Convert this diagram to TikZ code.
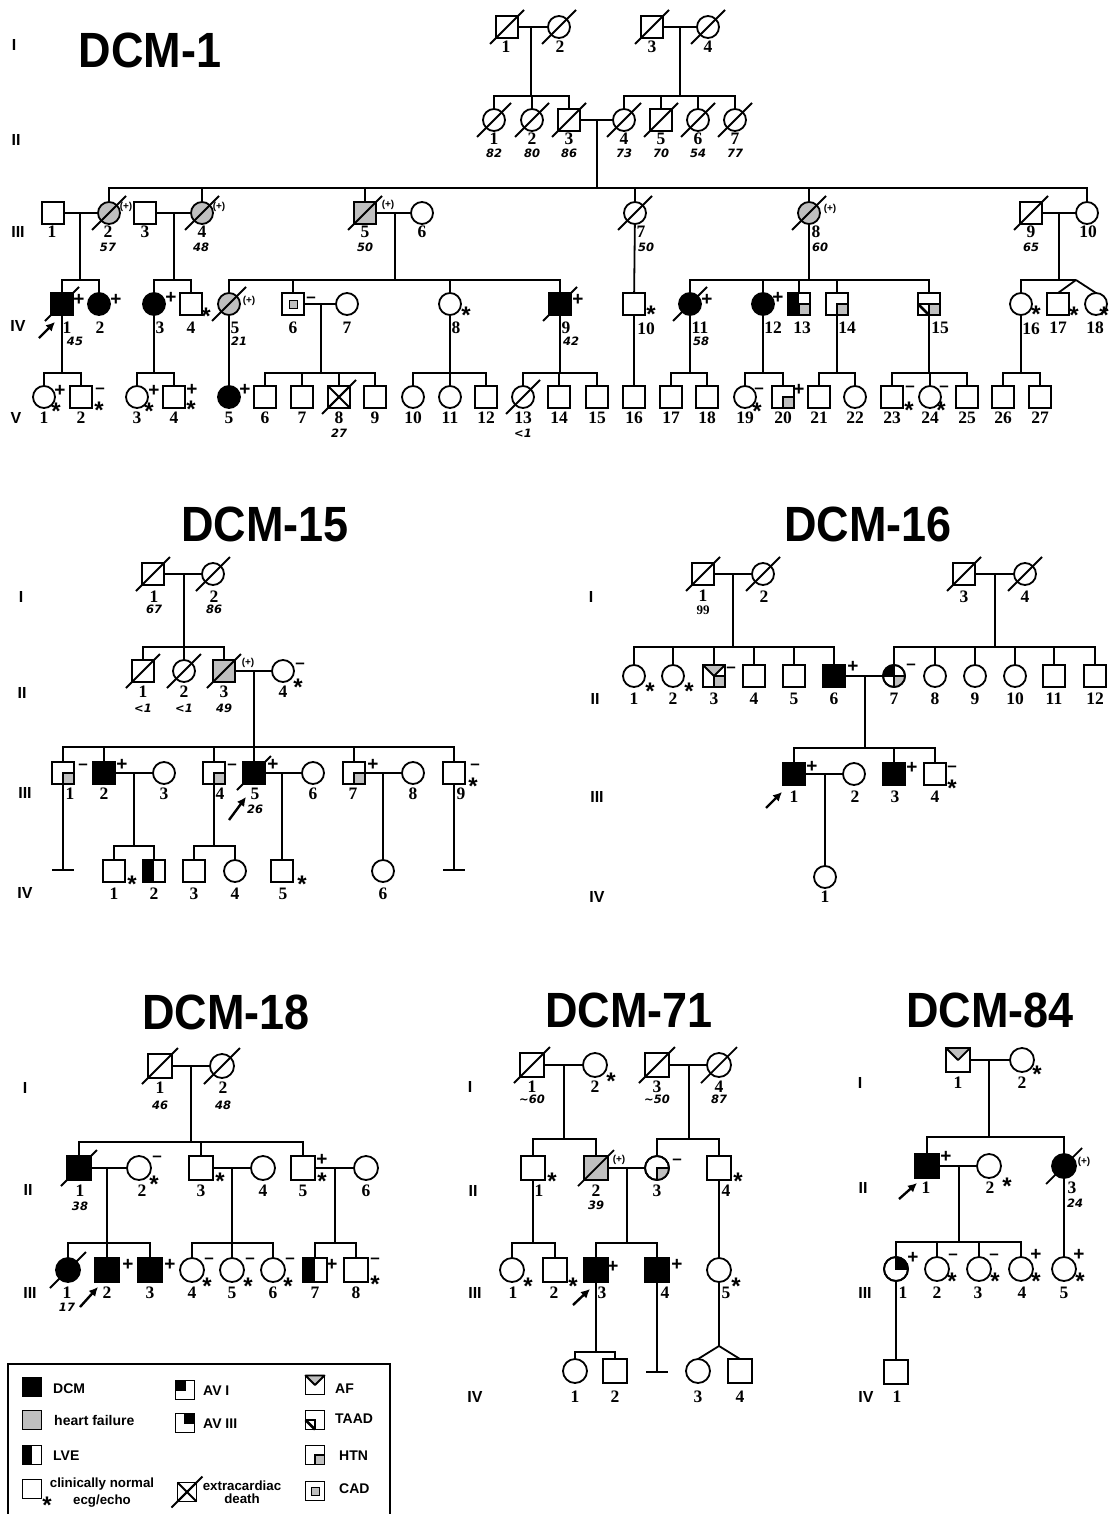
\documentclass[tikz,border=0pt]{standalone}
\usepackage{fontspec}
\setmainfont{Liberation Serif}
\newfontfamily\lsans{Liberation Sans}
\newfontfamily\dvs{DejaVu Sans}
\usetikzlibrary{arrows.meta}
\newcounter{tx}
\definecolor{hf}{gray}{0.75}
\def\hs{11}
\newcommand\Ma[3][]{\node[msym,#1] (#2) at (#3) {};}
\newcommand\Fe[3][]{\node[fsym,#1] (#2) at (#3) {};}
\newcommand\Tx[3][num]{\stepcounter{tx}\node[#1,name=t\the\value{tx}] at (#2) {#3};}
\newcommand\Sx{\raisebox{-0.43em}[0.29em][0pt]{*}}
\newcommand\Mx{\raisebox{-0.21em}[0.09em][0pt]{\textendash}}
\newcommand\Dd[1]{\draw[sym] (#1.center) ++({-\hs-6},{\hs+6}) -- ++({2*\hs+12},{-2*\hs-12});}
\newcommand\Xd[1]{\draw[sym] (#1.north west) -- (#1.south east) (#1.north east) -- (#1.south west);\Dd{#1}}
\newcommand\Lve[1]{\fill (#1.north west) rectangle (#1.south);\draw[sym] (#1.north west) rectangle (#1.south east);}
\newcommand\Htn[1]{\draw[sym,fill=hf] (#1.center) rectangle (#1.south east);}
\newcommand\Cad[1]{\draw[line width=1pt,fill=hf] (#1.center) ++(-4,-4) rectangle ++(8,8);}
\newcommand\Af[1]{\draw[sym,fill=hf,line join=round] (#1.north west) -- (#1.north east) -- (#1.center) -- cycle;}
\newcommand\Taad[1]{\draw[sym] (#1.west) -- (#1.center) -- (#1.south);\draw[line width=2.6pt] (#1.west) -- (#1.south);}
\newcommand\AvIs[1]{\draw[sym,fill=black] (#1.north west) rectangle (#1.center);}
\newcommand\AvIIIs[1]{\draw[sym,fill=black] (#1.north) rectangle (#1.east);}
\newcommand\CQ[3]{\begin{scope}\clip (#1.center) circle (\hs);\fill[#2] (#1.center) rectangle ++#3;\end{scope}}
\newcommand\Ring[1]{\draw[sym] (#1.center) circle (\hs);}
\newcommand\Sib[3]{\coordinate (sy) at (0,#2);\draw[ln] (#1) -- (#1 |- sy);\foreach \ch in {#3}{\draw[ln] (#1 |- sy) -- (\ch |- sy) -- (\ch);}}
\newcommand\Nob[2]{\coordinate (#1e) at (#1 |- 0,#2);\draw[ln] (#1) -- (#1e);\draw[ln] (#1e) ++(-11,0) -- ++(22,0);}
\begin{document}
\begin{tikzpicture}[x=1pt,y=-1pt,
 sym/.style={line width=1.8pt},
 ln/.style={line width=1.8pt},
 msym/.style={draw,rectangle,minimum size={2*\hs*1pt},inner sep=0pt,outer sep=0pt,line width=1.8pt,fill=white},
 fsym/.style={draw,circle,minimum size={2*\hs*1pt},inner sep=0pt,outer sep=0pt,line width=1.8pt,fill=white},
 bk/.style={fill=black}, gr/.style={fill=hf},
 num/.style={font=\fontsize{17.5}{17.5}\selectfont\bfseries,inner sep=0pt},
 age/.style={font=\dvs\fontsize{11.5}{11.5}\selectfont\bfseries\itshape,inner sep=0pt},
 nn/.style={font=\fontsize{13}{13}\selectfont\bfseries,inner sep=0pt},
 gen/.style={font=\lsans\fontsize{16}{16}\selectfont\bfseries,inner sep=0pt},
 ttl/.style={font=\lsans\fontsize{45}{45}\selectfont\bfseries,inner sep=0pt},
 pl/.style={font=\lsans\fontsize{19}{19}\selectfont\bfseries,inner sep=0pt},
 mi/.style={font=\lsans\fontsize{17}{17}\selectfont\bfseries,inner sep=0pt},
 st/.style={font=\lsans\fontsize{24}{24}\selectfont\bfseries,inner sep=0pt},
 pp/.style={font=\lsans\fontsize{10}{10}\selectfont\bfseries,inner sep=0pt},
 lg/.style={font=\lsans\fontsize{14}{14}\selectfont\bfseries,inner sep=0pt,anchor=west,text height=10pt,text depth=0pt},
 lgc/.style={font=\lsans\fontsize{13.3}{13.3}\selectfont\bfseries,inner sep=0pt,text height=9.5pt,text depth=0pt},
 arr/.style={-{Latex[length=9pt,width=9pt]},line width=2.4pt}]
\fill[white] (0,0) rectangle (1108,1514);
\useasboundingbox (0,0) rectangle (1108,1514);
% ================= DCM-1 =================
\node[ttl] (aT) at (150,50) {\scalebox{1}[1.1]{DCM-1}};
\Tx[gen]{14,45}{I}\Tx[gen]{16,140}{II}\Tx[gen]{18,232}{III}\Tx[gen]{18,326}{IV}\Tx[gen]{16,418}{V}
% I
\Ma{aI1}{507,27}\Fe{aI2}{559,27}\Ma{aI3}{652,27}\Fe{aI4}{708,27}
\Dd{aI1}\Dd{aI2}\Dd{aI3}\Dd{aI4}
\Tx{506,47}{1}\Tx{560,47}{2}\Tx{652,47}{3}\Tx{708,47}{4}
% II
\Fe{aII1}{494,120}\Fe{aII2}{532,120}\Ma{aII3}{569,120}\Fe{aII4}{624,120}\Ma{aII5}{661,120}\Fe{aII6}{698,120}\Fe{aII7}{735,120}
\Dd{aII1}\Dd{aII2}\Dd{aII3}\Dd{aII4}\Dd{aII5}\Dd{aII6}\Dd{aII7}
\Tx{494,139}{1}\Tx{532,139}{2}\Tx{569,139}{3}\Tx{624,139}{4}\Tx{661,139}{5}\Tx{698,139}{6}\Tx{735,139}{7}
\Tx[age]{494,153}{82}\Tx[age]{532,153}{80}\Tx[age]{569,153}{86}\Tx[age]{624,153}{73}\Tx[age]{661,153}{70}\Tx[age]{698,153}{54}\Tx[age]{735,153}{77}
% III
\Ma{aIII1}{53,213}\Fe[gr]{aIII2}{109,213}\Ma{aIII3}{145,213}\Fe[gr]{aIII4}{202,213}
\Ma[gr]{aIII5}{365,213}\Fe{aIII6}{422,213}\Fe{aIII7}{635,213}\Fe[gr]{aIII8}{809,213}
\Ma{aIII9}{1031,213}\Fe{aIII10}{1087,213}
\Dd{aIII2}\Dd{aIII4}\Dd{aIII5}\Dd{aIII7}\Dd{aIII8}\Dd{aIII9}
\Tx[pp]{126,207}{(+)}\Tx[pp]{219,207}{(+)}\Tx[pp]{388,205}{(+)}\Tx[pp]{830,209}{(+)}
\Tx{52,232}{1}\Tx{108,232}{2}\Tx{145,232}{3}\Tx{202,232}{4}\Tx{365,232}{5}\Tx{422,232}{6}
\Tx{641,232}{7}\Tx{816,232}{8}\Tx{1031,232}{9}\Tx{1088,232}{10}
\Tx[age]{108,247}{57}\Tx[age]{201,247}{48}\Tx[age]{365,247}{50}\Tx[age]{646,247}{50}\Tx[age]{820,247}{60}\Tx[age]{1031,247}{65}
% IV
\Ma[bk]{aIV1}{62,304}\Fe[bk]{aIV2}{99,304}\Fe[bk]{aIV3}{154,304}\Ma{aIV4}{191,304}
\Fe[gr]{aIV5}{229,304}\Ma{aIV6}{293,304}\Fe{aIV7}{347,304}\Fe{aIV8}{450,304}
\Ma[bk]{aIV9}{560,304}\Ma{aIV10}{634,304}\Fe[bk]{aIV11}{690,304}\Fe[bk]{aIV12}{763,304}
\Ma{aIV13}{799,304}\Ma{aIV14}{837,304}\Ma{aIV15}{929,304}
\Fe{aIV16}{1021,304}\Ma{aIV17}{1058,304}\Fe{aIV18}{1096,304}
\Dd{aIV1}\Dd{aIV5}\Dd{aIV9}\Dd{aIV11}
\Cad{aIV6}\Lve{aIV13}\Htn{aIV13}\Htn{aIV14}\Taad{aIV15}\Htn{aIV15}
\Tx[pl]{79,300}{+}\Tx[pl]{116,300}{+}\Tx[pl]{171,298}{+}\Tx[st]{206,311}{\Sx}\Tx[pp]{249,301}{(+)}
\Tx[mi]{311,298}{\Mx}\Tx[st]{466,310}{\Sx}\Tx[pl]{578,300}{+}\Tx[st]{651,309}{\Sx}
\Tx[pl]{707,300}{+}\Tx[pl]{778,298}{+}\Tx[st]{1036,309}{\Sx}\Tx[st]{1074,310}{\Sx}\Tx[st]{1104,310}{\Sx}
\Tx{67,328}{1}\Tx{100,328}{2}\Tx{160,328}{3}\Tx{191,328}{4}\Tx{235,328}{5}\Tx{293,328}{6}\Tx{347,328}{7}
\Tx{456,328}{8}\Tx{566,328}{9}\Tx{646,329}{10}\Tx{700,328}{11}\Tx{773,328}{12}\Tx{802,328}{13}
\Tx{847,328}{14}\Tx{940,328}{15}\Tx{1031,329}{16}\Tx{1058,328}{17}\Tx{1095,328}{18}
\Tx[age]{75,341}{45}\Tx[age]{239,341}{21}\Tx[age]{571,341}{42}\Tx[age]{701,341}{58}
\coordinate (aA0) at (39,338);\coordinate (aA1) at (55,322);\draw[arr] (aA0) -- (aA1);
% V
\foreach \n/\xx in {1/44,3/137,10/413,11/450,13/523,19/745,22/855,24/930}{\Fe{aV\n}{\xx,397}}
\foreach \n/\xx in {2/81,4/174,6/265,7/302,8/339,9/375,12/486,14/559,15/597,16/634,17/671,18/707,20/783,21/819,23/892,25/967,26/1003,27/1040}{\Ma{aV\n}{\xx,397}}
\Fe[bk]{aV5}{229,397}
\Xd{aV8}\Dd{aV13}\Htn{aV20}
\foreach \n/\xx in {1/44,2/81,3/137,4/174,5/229,6/265,7/302,8/339,9/375,10/413,11/450,12/486,13/523,14/559,15/597,16/634,17/671,18/707,19/745,20/783,21/819,22/855,23/892,24/930,25/967,26/1003,27/1040}{\Tx{\xx,418}{\n}}
\Tx[age]{339,433}{27}\Tx[age]{523,433}{<1}
\Tx[pl]{60,391}{+}\Tx[st]{56,406}{\Sx}\Tx[mi]{100,389}{\Mx}\Tx[st]{99,405}{\Sx}
\Tx[pl]{154,391}{+}\Tx[st]{149,406}{\Sx}\Tx[pl]{192,390}{+}\Tx[st]{191,404}{\Sx}
\Tx[pl]{245,390}{+}\Tx[mi]{759,389}{\Mx}\Tx[st]{757,406}{\Sx}\Tx[pl]{799,390}{+}
\Tx[mi]{910,387}{\Mx}\Tx[st]{909,405}{\Sx}\Tx[mi]{944,387}{\Mx}\Tx[st]{941,405}{\Sx}
% DCM-1 connectors
\draw[ln] (aI1) -- (aI2);\draw[ln] (aI3) -- (aI4);
\coordinate (am1) at (531,27);\coordinate (am2) at (680,27);
\Sib{am1}{96}{aII1,aII2,aII3}\Sib{am2}{96}{aII4,aII5,aII6,aII7}
\draw[ln] (aII3) -- (aII4);\coordinate (am3) at (597,120);
\Sib{am3}{188}{aIII2,aIII4,aIII5,aIII7,aIII8,aIII10}
\draw[ln] (aIII1) -- (aIII2);\draw[ln] (aIII3) -- (aIII4);\draw[ln] (aIII5) -- (aIII6);\draw[ln] (aIII9) -- (aIII10);
\coordinate (am4) at (80,213);\coordinate (am5) at (174,213);\coordinate (am6) at (395,213);\coordinate (am7) at (1059,213);
\Sib{am4}{280}{aIV1,aIV2}\Sib{am5}{280}{aIV3,aIV4}\Sib{am6}{280}{aIV5,aIV6,aIV8,aIV9}
\draw[ln] (aIII7) -- (aIV10);
\Sib{aIII8}{280}{aIV11,aIV12,aIV13,aIV14,aIV15}
\coordinate (atw) at (1076,280);
\Sib{am7}{280}{aIV16,atw}
\draw[ln] (atw) -- (aIV17.north);\draw[ln] (atw) -- (aIV18.north);
\draw[ln] (aIV6) -- (aIV7);\coordinate (am8) at (321,304);
\Sib{aIV1}{373}{aV1,aV2}\Sib{aIV3}{373}{aV3,aV4}\draw[ln] (aIV5) -- (aV5);
\Sib{am8}{373}{aV6,aV7,aV8,aV9}\Sib{aIV8}{373}{aV10,aV11,aV12}\Sib{aIV9}{373}{aV13,aV14,aV15}
\draw[ln] (aIV10) -- (aV16);\Sib{aIV11}{373}{aV17,aV18}\Sib{aIV12}{373}{aV19,aV20}
\Sib{aIV14}{373}{aV21,aV22}\Sib{aIV15}{373}{aV23,aV24,aV25}\Sib{aIV16}{373}{aV26,aV27}
% ================= DCM-15 =================
\node[ttl] (bT) at (265,524) {\scalebox{1}[1.1]{DCM-15}};
\Tx[gen]{21,597}{I}\Tx[gen]{22,693}{II}\Tx[gen]{25,793}{III}\Tx[gen]{25,893}{IV}
\Ma{bI1}{153,574}\Fe{bI2}{213,574}\Dd{bI1}\Dd{bI2}
\Tx{154,597}{1}\Tx{214,597}{2}\Tx[age]{154,609}{67}\Tx[age]{214,609}{86}
\Ma{bII1}{143,671}\Fe{bII2}{184,671}\Ma[gr]{bII3}{224,671}\Fe{bII4}{283,671}
\Dd{bII1}\Dd{bII2}\Dd{bII3}
\Tx[pp]{248,663}{(+)}\Tx[mi]{300,664}{\Mx}\Tx[st]{298,682}{\Sx}
\Tx{143,692}{1}\Tx{184,692}{2}\Tx{224,692}{3}\Tx{283,692}{4}
\Tx[age]{143,708}{<1}\Tx[age]{184,708}{<1}\Tx[age]{224,708}{49}
\Ma{bIII1}{63,773}\Ma[bk]{bIII2}{104,773}\Fe{bIII3}{164,773}\Ma{bIII4}{214,773}\Ma[bk]{bIII5}{254,773}
\Fe{bIII6}{313,773}\Ma{bIII7}{354,773}\Fe{bIII8}{413,773}\Ma{bIII9}{454,773}
\Htn{bIII1}\Htn{bIII4}\Htn{bIII7}\Dd{bIII5}
\Tx[mi]{83,765}{\Mx}\Tx[pl]{122,765}{+}\Tx[mi]{232,765}{\Mx}\Tx[pl]{273,765}{+}
\Tx[pl]{373,765}{+}\Tx[mi]{475,765}{\Mx}\Tx[st]{473,781}{\Sx}
\Tx{70,794}{1}\Tx{104,794}{2}\Tx{164,794}{3}\Tx{220,794}{4}\Tx{255,794}{5}\Tx{313,794}{6}\Tx{353,794}{7}\Tx{413,794}{8}\Tx{461,794}{9}
\Tx[age]{255,809}{26}
\coordinate (bA0) at (229,820);\coordinate (bA1) at (246,797);\draw[arr] (bA0) -- (bA1);
\Ma{bIV1}{114,871}\Ma{bIV2}{154,871}\Ma{bIV3}{194,871}\Fe{bIV4}{235,871}\Ma{bIV5}{282,871}\Fe{bIV6}{383,871}
\Lve{bIV2}
\Tx[st]{132,879}{\Sx}\Tx[st]{302,879}{\Sx}
\Tx{114,894}{1}\Tx{154,894}{2}\Tx{194,894}{3}\Tx{235,894}{4}\Tx{283,894}{5}\Tx{383,894}{6}
\draw[ln] (bI1) -- (bI2);\coordinate (bm1) at (184,574);
\Sib{bm1}{647}{bII1,bII2,bII3}
\draw[ln] (bII3) -- (bII4);\coordinate (bm2) at (254,671);
\Sib{bm2}{747}{bIII1,bIII2,bIII4,bIII5,bIII7,bIII9}
\draw[ln] (bIII2) -- (bIII3);\draw[ln] (bIII5) -- (bIII6);\draw[ln] (bIII7) -- (bIII8);
\coordinate (bm3) at (134,773);\coordinate (bm4) at (282,773);\coordinate (bm5) at (383,773);
\Sib{bm3}{846}{bIV1,bIV2}\Sib{bIII4}{846}{bIV3,bIV4}
\draw[ln] (bm4) -- (bIV5);\draw[ln] (bm5) -- (bIV6);
\Nob{bIII1}{870}\Nob{bIII9}{870}
% ================= DCM-16 =================
\node[ttl] (cT) at (868,524) {\scalebox{1}[1.1]{DCM-16}};
\Tx[gen]{591,597}{I}\Tx[gen]{595,699}{II}\Tx[gen]{597,797}{III}\Tx[gen]{597,897}{IV}
\Ma{cI1}{703,574}\Fe{cI2}{763,574}\Ma{cI3}{964,574}\Fe{cI4}{1025,574}
\Dd{cI1}\Dd{cI2}\Dd{cI3}\Dd{cI4}
\Tx{703,596}{1}\Tx{764,597}{2}\Tx{964,597}{3}\Tx{1025,597}{4}\Tx[nn]{703,610}{99}
\Fe{cII1}{634,676}\Fe{cII2}{673,676}\Ma{cII3}{714,676}\Ma{cII4}{754,676}\Ma{cII5}{794,676}\Ma[bk]{cII6}{834,676}
\Fe{cII7}{894,676}\Fe{cII8}{935,676}\Fe{cII9}{975,676}\Fe{cII10}{1015,676}\Ma{cII11}{1054,676}\Ma{cII12}{1095,676}
\Af{cII3}\Htn{cII3}
\CQ{cII7}{black}{(-12,-12)}\CQ{cII7}{hf}{(12,12)}
\draw[sym] (cII7.west) -- (cII7.east) (cII7.north) -- (cII7.south);\Ring{cII7}
\Tx[st]{650,686}{\Sx}\Tx[st]{689,686}{\Sx}\Tx[mi]{731,668}{\Mx}\Tx[pl]{853,667}{+}\Tx[mi]{911,665}{\Mx}
\foreach \n/\xx in {1/634,2/673,3/714,4/754,5/794,6/834,7/894,8/935,9/975,10/1015,11/1054,12/1095}{\Tx{\xx,699}{\n}}
\Ma[bk]{cIII1}{794,774}\Fe{cIII2}{854,774}\Ma[bk]{cIII3}{894,774}\Ma{cIII4}{935,774}
\Tx[pl]{812,767}{+}\Tx[pl]{912,768}{+}\Tx[mi]{952,767}{\Mx}\Tx[st]{952,783}{\Sx}
\Tx{794,797}{1}\Tx{855,797}{2}\Tx{895,797}{3}\Tx{935,797}{4}
\coordinate (cA0) at (766,808);\coordinate (cA1) at (782,792);\draw[arr] (cA0) -- (cA1);
\Fe{cIV1}{825,877}\Tx{825,897}{1}
\draw[ln] (cI1) -- (cI2);\draw[ln] (cI3) -- (cI4);
\coordinate (cm1) at (733,574);\coordinate (cm2) at (995,574);
\Sib{cm1}{647}{cII1,cII2,cII3,cII4,cII5,cII6}\Sib{cm2}{647}{cII7,cII8,cII9,cII10,cII11,cII12}
\draw[ln] (cII6) -- (cII7);\coordinate (cm3) at (865,676);
\Sib{cm3}{748}{cIII1,cIII3,cIII4}
\draw[ln] (cIII1) -- (cIII2);\coordinate (cm4) at (825,774);\draw[ln] (cm4) -- (cIV1);
% ================= DCM-18 =================
\def\hs{12}
\node[ttl] (dT) at (226,1012) {\scalebox{1}[1.1]{DCM-18}};
\Tx[gen]{25,1088}{I}\Tx[gen]{28,1190}{II}\Tx[gen]{30,1293}{III}
\Ma{dI1}{160,1066}\Fe{dI2}{222,1066}\Dd{dI1}\Dd{dI2}
\Tx{160,1088}{1}\Tx{223,1088}{2}\Tx[age]{160,1105}{46}\Tx[age]{223,1105}{48}
\Ma[bk]{dII1}{79,1168}\Fe{dII2}{139,1168}\Ma{dII3}{201,1168}\Fe{dII4}{263,1168}\Ma{dII5}{303,1168}\Fe{dII6}{366,1168}
\Dd{dII1}
\Tx[mi]{157,1157}{\Mx}\Tx[st]{154,1179}{\Sx}\Tx[st]{220,1176}{\Sx}\Tx[pl]{322,1160}{+}\Tx[st]{322,1176}{\Sx}
\Tx{80,1191}{1}\Tx{142,1191}{2}\Tx{201,1191}{3}\Tx{263,1191}{4}\Tx{303,1191}{5}\Tx{366,1191}{6}
\Tx[age]{80,1206}{38}
\Fe[bk]{dIII1}{68,1270}\Ma[bk]{dIII2}{107,1270}\Ma[bk]{dIII3}{150,1270}\Fe{dIII4}{192,1270}\Fe{dIII5}{232,1270}\Fe{dIII6}{273,1270}
\Ma{dIII7}{315,1270}\Ma{dIII8}{356,1270}
\Dd{dIII1}\Lve{dIII7}
\Tx[pl]{128,1265}{+}\Tx[pl]{170,1265}{+}\Tx[mi]{209,1259}{\Mx}\Tx[st]{207,1281}{\Sx}
\Tx[mi]{250,1259}{\Mx}\Tx[st]{248,1281}{\Sx}\Tx[mi]{290,1259}{\Mx}\Tx[st]{288,1281}{\Sx}
\Tx[pl]{332,1265}{+}\Tx[mi]{375,1259}{\Mx}\Tx[st]{375,1279}{\Sx}
\Tx{67,1293}{1}\Tx{107,1293}{2}\Tx{150,1293}{3}\Tx{192,1293}{4}\Tx{232,1293}{5}\Tx{273,1293}{6}\Tx{315,1293}{7}\Tx{356,1293}{8}
\Tx[age]{67,1307}{17}
\coordinate (dA0) at (80,1307);\coordinate (dA1) at (98,1287);\draw[arr] (dA0) -- (dA1);
\draw[ln] (dI1) -- (dI2);\coordinate (dm1) at (191,1066);
\Sib{dm1}{1142}{dII1,dII3,dII5}
\draw[ln] (dII1) -- (dII2);\draw[ln] (dII3) -- (dII4);\draw[ln] (dII5) -- (dII6);
\coordinate (dm2) at (107,1168);\coordinate (dm3) at (232,1168);\coordinate (dm4) at (335,1168);
\Sib{dm2}{1243}{dIII1,dIII2,dIII3}\Sib{dm3}{1243}{dIII4,dIII5,dIII6}\Sib{dm4}{1243}{dIII7,dIII8}
% ================= DCM-71 =================
\node[ttl] (eT) at (629,1010) {\scalebox{1}[1.1]{DCM-71}};
\Tx[gen]{470,1087}{I}\Tx[gen]{473,1191}{II}\Tx[gen]{475,1293}{III}\Tx[gen]{475,1397}{IV}
\Ma{eI1}{532,1065}\Fe{eI2}{595,1065}\Ma{eI3}{657,1065}\Fe{eI4}{719,1065}
\Dd{eI1}\Dd{eI3}\Dd{eI4}
\Tx[st]{611,1076}{\Sx}
\Tx{532,1087}{1}\Tx{595,1087}{2}\Tx{657,1087}{3}\Tx{719,1087}{4}
\Tx[age]{532,1099}{\textasciitilde60}\Tx[age]{657,1099}{\textasciitilde50}\Tx[age]{719,1099}{87}
\Ma{eII1}{533,1168}\Ma[gr]{eII2}{596,1168}\Fe{eII3}{657,1168}\Ma{eII4}{719,1168}
\Dd{eII2}
\CQ{eII3}{hf}{(13,13)}\draw[sym] (eII3.east) -- (eII3.center) -- (eII3.south);\Ring{eII3}
\Tx[st]{552,1176}{\Sx}\Tx[pp]{619,1160}{(+)}\Tx[mi]{677,1160}{\Mx}\Tx[st]{738,1176}{\Sx}
\Tx{539,1191}{1}\Tx{596,1191}{2}\Tx{657,1191}{3}\Tx{726,1191}{4}\Tx[age]{596,1205}{39}
\Fe{eIII1}{512,1270}\Ma{eIII2}{555,1270}\Ma[bk]{eIII3}{596,1270}\Ma[bk]{eIII4}{657,1270}\Fe{eIII5}{719,1270}
\Tx[st]{528,1281}{\Sx}\Tx[st]{573,1281}{\Sx}\Tx[pl]{613,1267}{+}\Tx[pl]{677,1265}{+}\Tx[st]{736,1281}{\Sx}
\Tx{513,1293}{1}\Tx{554,1293}{2}\Tx{602,1293}{3}\Tx{665,1293}{4}\Tx{726,1293}{5}
\coordinate (eA0) at (573,1305);\coordinate (eA1) at (590,1289);\draw[arr] (eA0) -- (eA1);
\Fe{eIV1}{575,1371}\Ma{eIV2}{615,1371}\Fe{eIV3}{698,1371}\Ma{eIV4}{740,1371}
\Tx{575,1397}{1}\Tx{615,1397}{2}\Tx{698,1397}{3}\Tx{740,1397}{4}
\draw[ln] (eI1) -- (eI2);\draw[ln] (eI3) -- (eI4);
\coordinate (em1) at (564,1065);\coordinate (em2) at (689,1065);
\Sib{em1}{1139}{eII1,eII2}\Sib{em2}{1139}{eII3,eII4}
\draw[ln] (eII2) -- (eII3);\coordinate (em3) at (627,1168);
\Sib{eII1}{1243}{eIII1,eIII2}\Sib{em3}{1243}{eIII3,eIII4}
\draw[ln] (eII4) -- (eIII5);
\Sib{eIII3}{1352}{eIV1,eIV2}
\Nob{eIII4}{1372}
\coordinate (etw) at (719,1346);\draw[ln] (eIII5) -- (etw);
\draw[ln] (etw) -- (eIV3.north);\draw[ln] (etw) -- (eIV4.north);
% ================= DCM-84 =================
\node[ttl] (fT) at (990,1010) {\scalebox{1}[1.1]{DCM-84}};
\Tx[gen]{860,1083}{I}\Tx[gen]{863,1188}{II}\Tx[gen]{865,1293}{III}\Tx[gen]{866,1397}{IV}
\Ma{fI1}{958,1060}\Fe{fI2}{1022,1060}\Af{fI1}
\Tx[st]{1037,1069}{\Sx}\Tx{958,1083}{1}\Tx{1022,1083}{2}
\Ma[bk]{fII1}{927,1166}\Fe{fII2}{989,1166}\Fe[bk]{fII3}{1064,1166}\Dd{fII3}
\Tx[pl]{946,1157}{+}\Tx[st]{1007,1181}{\Sx}\Tx[pp]{1084,1162}{(+)}
\Tx{926,1188}{1}\Tx{990,1188}{2}\Tx{1072,1188}{3}\Tx[age]{1075,1203}{24}
\coordinate (fA0) at (899,1199);\coordinate (fA1) at (917,1183);\draw[arr] (fA0) -- (fA1);
\Fe{fIII1}{896,1269}\Fe{fIII2}{937,1269}\Fe{fIII3}{979,1269}\Fe{fIII4}{1021,1269}\Fe{fIII5}{1064,1269}
\CQ{fIII1}{black}{(13,-13)}\draw[sym] (fIII1.north) -- (fIII1.center) -- (fIII1.east);\Ring{fIII1}
\Tx[pl]{913,1258}{+}\Tx[mi]{953,1255}{\Mx}\Tx[st]{952,1276}{\Sx}\Tx[mi]{994,1255}{\Mx}\Tx[st]{995,1276}{\Sx}
\Tx[pl]{1036,1255}{+}\Tx[st]{1036,1276}{\Sx}\Tx[pl]{1079,1255}{+}\Tx[st]{1080,1276}{\Sx}
\Tx{903,1293}{1}\Tx{937,1293}{2}\Tx{978,1293}{3}\Tx{1022,1293}{4}\Tx{1064,1293}{5}
\Ma{fIV1}{896,1372}\Tx{897,1397}{1}
\draw[ln] (fI1) -- (fI2);\coordinate (fm1) at (989,1060);
\Sib{fm1}{1137}{fII1,fII3}
\draw[ln] (fII1) -- (fII2);\coordinate (fm2) at (959,1166);
\Sib{fm2}{1242}{fIII1,fIII2,fIII3,fIII4}
\draw[ln] (fII3) -- (fIII5);\draw[ln] (fIII1) -- (fIV1);
% ================= Legend =================
\def\hs{9.5}
\coordinate (gb1) at (8,1518);\coordinate (gb2) at (8,1364);\coordinate (gb3) at (390,1364);\coordinate (gb4) at (390,1518);
\draw[line width=1.5pt] (gb1) -- (gb2) -- (gb3) -- (gb4);
\Ma[bk]{gDCM}{32,1387}\Tx[lg]{53,1388}{DCM}
\Ma[gr]{gHF}{32,1420}\Tx[lg]{54,1420}{heart failure}
\Ma{gLVE}{32,1455}\Lve{gLVE}\Tx[lg]{53,1455}{LVE}
\Ma{gN}{32,1489}\Tx[st]{47,1500}{\Sx}\Tx[lgc]{102,1483}{clinically normal}\Tx[lgc]{102,1500}{ecg/echo}
\Ma{gAVI}{185,1390}\AvIs{gAVI}\Tx[lg]{203,1390}{AV I}
\Ma{gAVIII}{185,1423}\AvIIIs{gAVIII}\Tx[lg]{203,1423}{AV III}
\Ma{gX}{187,1492}\Xd{gX}\Tx[lgc]{242,1486}{extracardiac}\Tx[lgc]{242,1499}{death}
\Ma{gAF}{315,1385}\Af{gAF}\Tx[lg]{335,1388}{AF}
\Ma{gTA}{315,1420}\Taad{gTA}\Tx[lg]{335,1418}{TAAD}
\Ma{gHT}{315,1455}\Htn{gHT}\Tx[lg]{339,1455}{HTN}
\Ma{gCA}{315,1491}\Cad{gCA}\Tx[lg]{339,1488}{CAD}
\end{tikzpicture}
\end{document}
